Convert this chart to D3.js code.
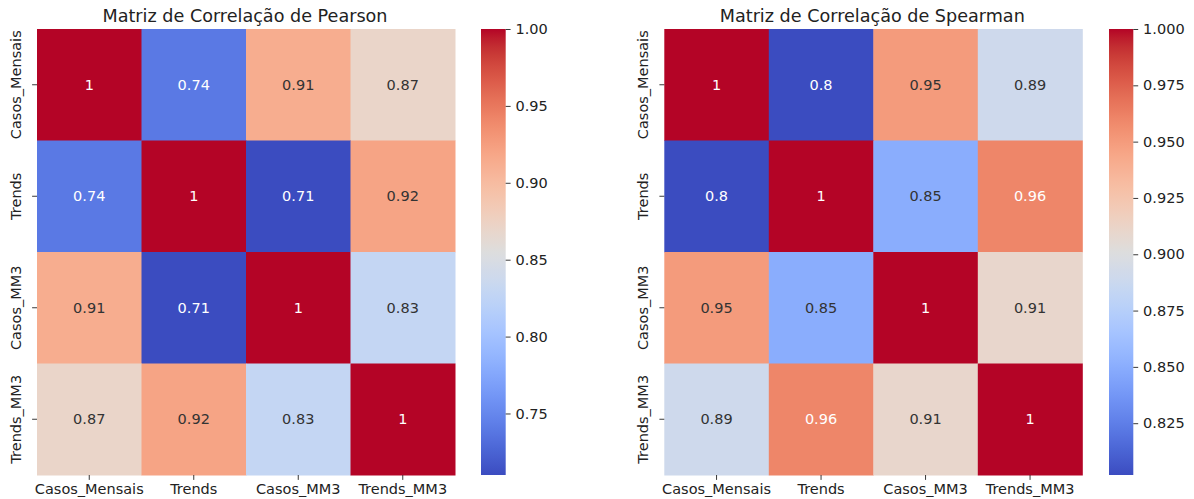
<!DOCTYPE html>
<html>
<head>
<meta charset="utf-8">
<script src="https://cdn.jsdelivr.net/npm/d3@7"></script>
<style>
  body { margin: 0; background: #fff; }
  svg { display: block; font-family: "DejaVu Sans", sans-serif; }
</style>
</head>
<body>
<div id="chart"></div>
<script>
const labels = ["Casos_Mensais", "Trends", "Casos_MM3", "Trends_MM3"];

const pearsonValues = [
  [1, 0.74, 0.913, 0.87],
  [0.74, 1, 0.71, 0.92],
  [0.913, 0.71, 1, 0.83],
  [0.87, 0.92, 0.83, 1]
];

const spearmanValues = [
  [1, 0.802, 0.95, 0.89],
  [0.802, 1, 0.85, 0.96],
  [0.95, 0.85, 1, 0.91],
  [0.89, 0.96, 0.91, 1]
];

const pearsonTicks = [0.75, 0.80, 0.85, 0.90, 0.95, 1.00];
const spearmanTicks = [0.825, 0.850, 0.875, 0.900, 0.925, 0.950, 0.975, 1.000];

// matplotlib "coolwarm" (Moreland) control colors
const coolwarmStops = [
  [59,76,192],[68,90,204],[77,104,215],[87,117,225],[98,130,234],[108,142,241],
  [119,154,247],[130,165,251],[141,176,254],[152,185,255],[163,194,255],[174,201,253],
  [184,208,249],[194,213,244],[204,217,238],[213,219,230],[221,221,221],[229,216,209],
  [236,211,197],[241,204,184],[245,196,172],[247,187,160],[247,177,148],[247,166,135],
  [244,154,123],[241,141,111],[236,127,99],[229,112,88],[222,96,77],[213,80,66],
  [203,62,56],[192,40,47],[180,4,38]
];
const coolwarm = d3.piecewise(d3.interpolateRgb, coolwarmStops.map(c => d3.rgb(c[0], c[1], c[2])));

const width = 1194, height = 499;
const fs = 14.5;

const svg = d3.select("#chart").append("svg")
  .attr("width", width)
  .attr("height", height);

const fmt = d3.format(".2~g");

const lum = (col) => {
  const c = d3.rgb(col);
  const lin = v => { v /= 255; return v <= 0.03928 ? v / 12.92 : Math.pow((v + 0.055) / 1.055, 2.4); };
  return 0.2126 * lin(c.r) + 0.7152 * lin(c.g) + 0.0722 * lin(c.b);
};

const drawHeatmap = (opts) => {
  const { values, title, left, right, top, bottom, cbX, cbW, ticks, tickFmt, gradId } = opts;
  const g = svg.append("g");
  const flat = values.flat();
  const vmin = d3.min(flat), vmax = d3.max(flat);
  const color = d3.scaleSequential(coolwarm).domain([vmin, vmax]);

  const x = d3.scaleBand().domain(labels).range([left, right]);
  const y = d3.scaleBand().domain(labels).range([top, bottom]);

  const cells = [];
  values.forEach((row, i) => row.forEach((v, j) => cells.push({ r: labels[i], c: labels[j], v })));

  g.selectAll("rect.cell")
    .data(cells)
    .join("rect")
    .attr("class", "cell")
    .attr("x", d => x(d.c))
    .attr("y", d => y(d.r))
    .attr("width", x.bandwidth() + 0.5)
    .attr("height", y.bandwidth() + 0.5)
    .attr("fill", d => color(d.v));

  g.selectAll("text.annot")
    .data(cells)
    .join("text")
    .attr("class", "annot")
    .attr("x", d => x(d.c) + x.bandwidth() / 2)
    .attr("y", d => y(d.r) + y.bandwidth() / 2)
    .attr("text-anchor", "middle")
    .attr("dominant-baseline", "central")
    .attr("font-size", fs)
    .attr("fill", d => lum(color(d.v)) > 0.408 ? "#333333" : "#ffffff")
    .text(d => fmt(d.v));

  // x axis
  const xa = g.append("g").attr("transform", `translate(0,${bottom})`)
    .call(d3.axisBottom(x).tickSize(4.9).tickPadding(4.2));
  xa.select(".domain").remove();
  xa.selectAll("text").attr("font-size", fs).attr("fill", "#222").attr("font-family", "DejaVu Sans");
  xa.selectAll("line").attr("stroke", "#222").attr("stroke-width", 0.9);

  // y axis
  const ya = g.append("g").attr("transform", `translate(${left},0)`)
    .call(d3.axisLeft(y).tickSize(4.9).tickPadding(4.5));
  ya.select(".domain").remove();
  ya.selectAll("line").attr("stroke", "#222").attr("stroke-width", 0.9);
  ya.selectAll("text")
    .attr("font-size", fs).attr("fill", "#222").attr("font-family", "DejaVu Sans")
    .attr("x", null).attr("dy", null)
    .attr("text-anchor", "middle")
    .attr("transform", `translate(${-16.5},0) rotate(-90)`);

  // title
  g.append("text")
    .attr("x", (left + right) / 2 - 1)
    .attr("y", top - 7)
    .attr("text-anchor", "middle")
    .attr("font-size", 17.6)
    .attr("fill", "#222")
    .text(title);

  // colorbar
  const cb = d3.scaleLinear().domain([vmin, vmax]).range([bottom, top]);
  const grad = svg.append("defs").append("linearGradient")
    .attr("id", gradId)
    .attr("x1", 0).attr("y1", 1).attr("x2", 0).attr("y2", 0);
  d3.range(0, 1.0001, 0.02).forEach(t => {
    grad.append("stop").attr("offset", t).attr("stop-color", coolwarm(t));
  });
  g.append("rect")
    .attr("x", cbX).attr("y", top)
    .attr("width", cbW).attr("height", bottom - top)
    .attr("fill", `url(#${gradId})`);

  const ca = g.append("g").attr("transform", `translate(${cbX + cbW},0)`)
    .call(d3.axisRight(cb).tickValues(ticks).tickFormat(d3.format(tickFmt)).tickSize(4.9).tickPadding(4.9));
  ca.select(".domain").remove();
  ca.selectAll("line").attr("stroke", "#222").attr("stroke-width", 0.9);
  ca.selectAll("text").attr("font-size", fs).attr("fill", "#222").attr("font-family", "DejaVu Sans");
};

drawHeatmap({
  values: pearsonValues,
  title: "Matriz de Correlação de Pearson",
  left: 37, right: 455, top: 29, bottom: 475,
  cbX: 481, cbW: 24.7,
  ticks: pearsonTicks, tickFmt: ".2f", gradId: "cbP"
});

drawHeatmap({
  values: spearmanValues,
  title: "Matriz de Correlação de Spearman",
  left: 664.3, right: 1082.3, top: 29, bottom: 475,
  cbX: 1109, cbW: 24.3,
  ticks: spearmanTicks, tickFmt: ".3f", gradId: "cbS"
});
</script>
</body>
</html>
